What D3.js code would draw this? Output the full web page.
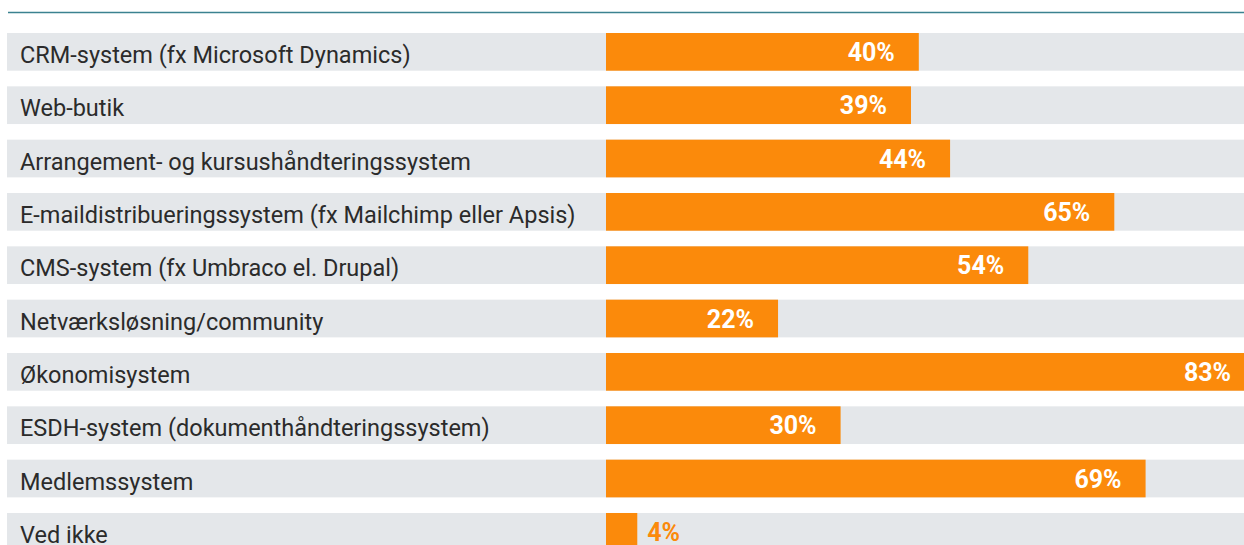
<!DOCTYPE html>
<html><head><meta charset="utf-8">
<script src="https://cdn.jsdelivr.net/npm/d3@7"></script>
<style>html,body{margin:0;padding:0;background:#fff;overflow:hidden}</style>
</head><body>
<svg id="c" width="1244" height="545"></svg>
<script>
const categories = [
  "CRM-system (fx Microsoft Dynamics)",
  "Web-butik",
  "Arrangement- og kursushåndteringssystem",
  "E-maildistribueringssystem (fx Mailchimp eller Apsis)",
  "CMS-system (fx Umbraco el. Drupal)",
  "Netværksløsning/community",
  "Økonomisystem",
  "ESDH-system (dokumenthåndteringssystem)",
  "Medlemssystem",
  "Ved ikke"
];
const values = [40, 39, 44, 65, 54, 22, 83, 30, 69, 4];

const svg = d3.select("#c");
const W = 1244;
const x = d3.scaleLinear().domain([0, 100]).range([606, 1388]);
const y = d3.scaleBand().domain(categories).range([33, 550.7]).paddingInner(0.293).paddingOuter(0);

svg.append("line").attr("x1", 8).attr("x2", W).attr("y1", 12.5).attr("y2", 12.5)
  .attr("stroke", "#3b8290").attr("stroke-width", 1.5);

const data = categories.map((c, i) => ({c, v: values[i]}));
const g = svg.selectAll("g.row").data(data).join("g").attr("class", "row")
  .attr("transform", d => `translate(0,${y(d.c)})`);

const inside = d => x(d.v) - x(0) > 60;
g.append("rect").attr("x", 7).attr("y", 0).attr("width", W - 7).attr("height", y.bandwidth()).attr("fill", "#e4e7ea");
g.append("rect").attr("x", x(0)).attr("y", 0).attr("width", d => x(d.v) - x(0)).attr("height", y.bandwidth()).attr("fill", "#fb8a0b");
g.append("text").attr("x", 20).attr("y", 30).text(d => d.c)
  .attr("font-family", "Roboto, 'Open Sans', sans-serif").attr("font-size", 23.5).attr("fill", "#2b2b2b");
g.append("text")
  .attr("x", d => inside(d) ? x(d.v) - 24 : x(d.v) + 10)
  .attr("text-anchor", d => inside(d) ? "end" : "start")
  .attr("y", 28).text(d => d.v + "%")
  .attr("font-family", "Roboto, sans-serif").attr("font-weight", "bold").attr("font-size", 25)
  .attr("fill", d => inside(d) ? "#fff" : "#fb8a0b");
</script>
</body></html>
